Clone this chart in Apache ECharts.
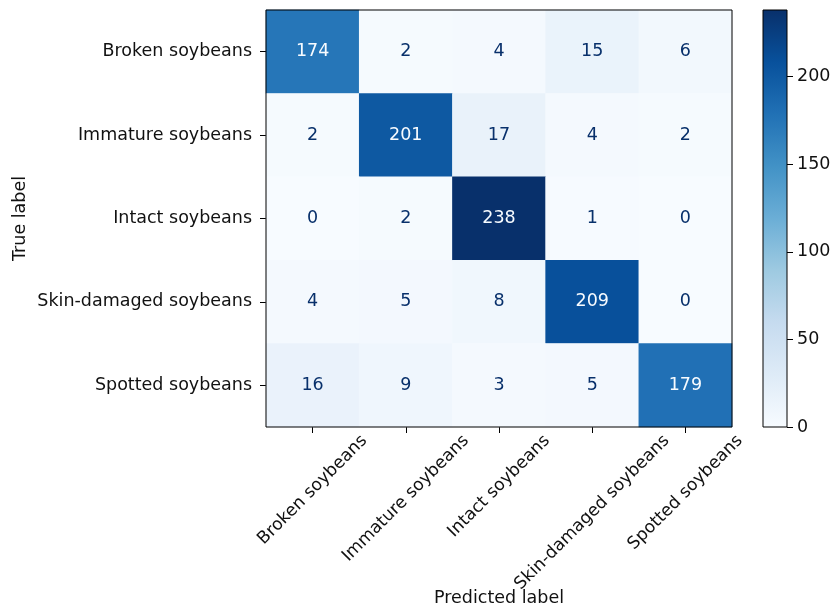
<!DOCTYPE html>
<html>
<head>
<meta charset="utf-8">
<script src="https://cdn.jsdelivr.net/npm/echarts@6/dist/echarts.min.js"></script>
<style>
html, body { margin: 0; padding: 0; background: #fff; }
#main { width: 831px; height: 606px; }
</style>
</head>
<body>
<div id="main"></div>
<script>
// confusion matrix, rows = true label, cols = predicted label
var classes = ['Broken soybeans', 'Immature soybeans', 'Intact soybeans', 'Skin-damaged soybeans', 'Spotted soybeans'];
var rowBroken   = [174, 2, 4, 15, 6];
var rowImmature = [2, 201, 17, 4, 2];
var rowIntact   = [0, 2, 238, 1, 0];
var rowSkin     = [4, 5, 8, 209, 0];
var rowSpotted  = [16, 9, 3, 5, 179];
var colorbarTicks = [0, 50, 100, 150, 200];
var blues = ['#f7fbff', '#deebf7', '#c6dbef', '#9ecae1', '#6baed6', '#4292c6', '#2171b5', '#08519c', '#08306b'];

var FONT = '"DejaVu Sans", sans-serif';
var FS = 17.5;
var FSX = 17.2;

var rows = [rowBroken, rowImmature, rowIntact, rowSkin, rowSpotted];
var vmax = 0, vmin = Infinity;
rows.forEach(function (r) { r.forEach(function (v) { vmax = Math.max(vmax, v); vmin = Math.min(vmin, v); }); });
var thresh = (vmax + vmin) / 2;

var cells = [];
rows.forEach(function (r, i) {
    r.forEach(function (v, j) {
        cells.push({
            value: [j, i, v],
            label: { color: v < thresh ? blues[8] : blues[0] }
        });
    });
});

// matplotlib centres the rotated label's bbox under the tick,
// so push each label down along the rotated frame by its own width
var ctx = document.createElement('canvas').getContext('2d');
ctx.font = FSX + 'px ' + FONT;
var xCats = classes.map(function (name) {
    var w = ctx.measureText(name).width;
    var D = 4 + 0.3535 * (w + 20);
    return {
        value: name,
        textStyle: {
            align: 'center',
            verticalAlign: 'top',
            lineHeight: FSX,
            padding: [0.707 * D - FSX / 2, 1.414 * D, 0, 0]
        }
    };
});

var stops = blues.map(function (c, i) { return { offset: i / (blues.length - 1), color: c }; });

var myChart = echarts.init(document.getElementById('main'));
var option = {
    backgroundColor: '#fff',
    animation: false,
    textStyle: { fontFamily: FONT },
    grid: [{
        left: 266, top: 10, width: 466, height: 417,
        show: true, borderColor: '#000', borderWidth: 1, z: 10,
        outerBoundsMode: 'none'
    }, {
        left: 763, top: 10, width: 24, height: 417,
        show: true, borderColor: '#000', borderWidth: 1, z: 10,
        outerBoundsMode: 'none'
    }],
    visualMap: {
        show: false,
        seriesIndex: 0,
        min: 0,
        max: vmax,
        inRange: { color: blues }
    },
    xAxis: [{
        type: 'category',
        data: xCats,
        gridIndex: 0,
        name: 'Predicted label',
        nameLocation: 'middle',
        nameGap: 162,
        nameMoveOverlap: false,
        nameTextStyle: { fontSize: FS, color: '#111', fontFamily: FONT },
        axisLine: { show: false },
        axisTick: { show: true, alignWithLabel: true, length: 6, lineStyle: { color: '#000' } },
        axisLabel: {
            interval: 0, rotate: 45, margin: 0,
            hideOverlap: false,
            fontSize: FSX, color: '#111', fontFamily: FONT
        },
        splitLine: { show: false }
    }, {
        type: 'category',
        data: [''],
        gridIndex: 1,
        show: false
    }],
    yAxis: [{
        type: 'category',
        data: classes,
        inverse: true,
        gridIndex: 0,
        name: 'True label',
        nameLocation: 'middle',
        nameGap: 237,
        nameMoveOverlap: false,
        nameTextStyle: { fontSize: FS, color: '#111', fontFamily: FONT },
        axisLine: { show: false },
        axisTick: { show: true, alignWithLabel: true, length: 6, lineStyle: { color: '#000' } },
        axisLabel: { interval: 0, margin: 14, fontSize: FS, color: '#111', fontFamily: FONT },
        splitLine: { show: false }
    }, {
        type: 'value',
        gridIndex: 1,
        position: 'right',
        min: 0,
        max: vmax,
        axisLine: { show: false },
        axisTick: { show: true, length: 6, customValues: colorbarTicks, lineStyle: { color: '#000' } },
        axisLabel: { margin: 10, customValues: colorbarTicks, fontSize: FS, color: '#111', fontFamily: FONT },
        splitLine: { show: false }
    }],
    series: [{
        type: 'heatmap',
        xAxisIndex: 0,
        yAxisIndex: 0,
        data: cells,
        label: { show: true, fontSize: FS, fontFamily: FONT },
        itemStyle: { borderWidth: 0 },
        emphasis: { disabled: true }
    }, {
        type: 'bar',
        xAxisIndex: 1,
        yAxisIndex: 1,
        data: [vmax],
        barWidth: '100%',
        barCategoryGap: '0%',
        silent: true,
        itemStyle: { color: new echarts.graphic.LinearGradient(0, 1, 0, 0, stops) }
    }]
};
myChart.setOption(option);
</script>
</body>
</html>
